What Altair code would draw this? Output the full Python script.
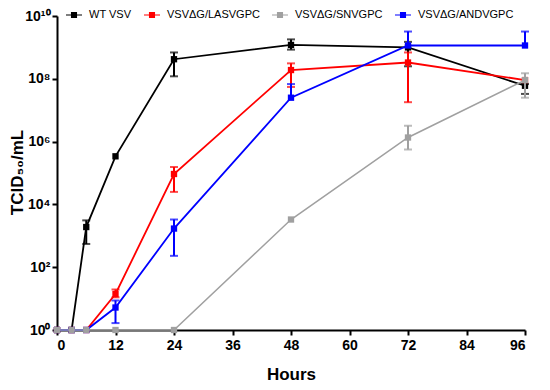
import altair as alt
import pandas as pd

series = ["WT VSV", "VSVΔG/LASVGPC", "VSVΔG/SNVGPC", "VSVΔG/ANDVGPC"]
colors = ["#000000", "#ff0000", "#a0a0a0", "#0000ff"]
hours = [0, 3, 6, 12, 24, 48, 72, 96]

wt_mean = [1, 1, 1.9e3, 3.4e5, 4.2e8, 1.2e9, 1.0e9, 6.0e7]
wt_lo = [1, 1, 5.5e2, 3.4e5, 1.2e8, 8.5e8, 2.5e8, 3.3e7]
wt_hi = [1, 1, 3.1e3, 3.4e5, 6.9e8, 1.8e9, 1.5e9, 6.8e7]

las_mean = [1, 1, 1, 14, 9.3e4, 1.9e8, 3.3e8, 9.1e7]
las_lo = [1, 1, 1, 11, 2.5e4, 5.5e7, 1.8e7, 9.1e7]
las_hi = [1, 1, 1, 19.5, 1.55e5, 3.1e8, 6.9e8, 9.1e7]

snv_mean = [1, 1, 1, 1, 1, 3.3e3, 1.35e6, 9.1e7]
snv_lo = [1, 1, 1, 1, 1, 3.3e3, 5.6e5, 2.5e7]
snv_hi = [1, 1, 1, 1, 1, 3.3e3, 3.2e6, 1.5e8]

and_mean = [1, 1, 1, 5.2, 1.7e3, 2.5e7, 1.15e9, 1.15e9]
and_lo = [1, 1, 1, 1.66, 230, 2.5e7, 1.15e9, 1.15e9]
and_hi = [1, 1, 1, 8.7, 3.3e3, 6.8e7, 3.2e9, 3.2e9]

data = {
    series[0]: (wt_mean, wt_lo, wt_hi),
    series[1]: (las_mean, las_lo, las_hi),
    series[2]: (snv_mean, snv_lo, snv_hi),
    series[3]: (and_mean, and_lo, and_hi),
}

FONT = "Liberation Sans"

color_scale = alt.Scale(domain=series, range=colors)
legend = alt.Legend(
    orient="none", legendX=9, legendY=-9, direction="horizontal", title=None,
    symbolType="M-1,-0.07H1V0.07H-1Z M-0.38,-0.38H0.38V0.38H-0.38Z",
    symbolSize=256, symbolStrokeWidth=0, labelFont=FONT, labelFontSize=11,
    labelFontWeight="normal", labelColor="black", columnPadding=12, labelOffset=7,
)

x_axis = alt.Axis(values=[0, 12, 24, 36, 48, 60, 72, 84, 96], title="Hours",
                  titlePadding=14, labelPadding=3)
y_axis = alt.Axis(
    values=[1, 1e2, 1e4, 1e6, 1e8, 1e10], title="TCID₅₀/mL",
    labelExpr="'10' + ['⁰','¹','²','³','⁴','⁵','⁶','⁷','⁸','⁹','¹⁰'][round(log(datum.value)/LN10)]",
    titleX=-40, titleY=156, titleAnchor="middle", titleAlign="center", titleBaseline="middle",
    labelPadding=2,
)

def xenc():
    return alt.X("hour:Q", scale=alt.Scale(domain=[0, 96], nice=False, zero=False), axis=x_axis)

def yenc(field):
    return alt.Y(f"{field}:Q", scale=alt.Scale(type="log", domain=[1, 1e10], nice=False), axis=y_axis)

layers = []
for idx in [0, 1, 3, 2]:
    name = series[idx]
    col = colors[idx]
    mean, lo, hi = data[name]
    df = pd.DataFrame({"hour": hours, "value": mean, "lo": lo, "hi": hi, "series": name})
    base = alt.Chart(df)
    sw = 1.5 if idx == 2 else 1.8
    layers.append(base.mark_line(color=col, strokeWidth=sw).encode(x=xenc(), y=yenc("value")))
    err = df[df["hi"] > df["lo"]]
    if len(err):
        layers.append(alt.Chart(err).mark_rule(color=col, strokeWidth=2).encode(
            x=xenc(), y=yenc("lo"), y2="hi"))
    up = df[df["hi"] > df["value"]]
    if len(up):
        layers.append(alt.Chart(up).mark_tick(color=col, thickness=2, size=8, orient="horizontal").encode(
            x=xenc(), y=yenc("hi")))
    dn = df[df["lo"] < df["value"]]
    if len(dn):
        layers.append(alt.Chart(dn).mark_tick(color=col, thickness=2, size=8, orient="horizontal").encode(
            x=xenc(), y=yenc("lo")))
    layers.append(base.mark_point(shape="square", filled=True, size=40, opacity=1).encode(
        x=xenc(), y=yenc("value"),
        color=alt.Color("series:N", scale=color_scale, legend=legend)))

chart = alt.layer(*layers).properties(
    width=468, height=314,
    autosize=alt.AutoSizeParams(type="none"),
    padding={"left": 49, "top": 8, "right": 17, "bottom": 52},
).configure_view(stroke=None).configure_axis(
    grid=False, domainColor="black", domainWidth=2, tickColor="black", tickWidth=2,
    tickSize=5, labelFont=FONT, labelFontSize=14, labelFontWeight="bold", labelColor="black",
    titleFont=FONT, titleFontSize=17, titleFontWeight="bold", titleColor="black",
)

chart.save("out.html", embed_options={"renderer": "svg", "actions": False})
